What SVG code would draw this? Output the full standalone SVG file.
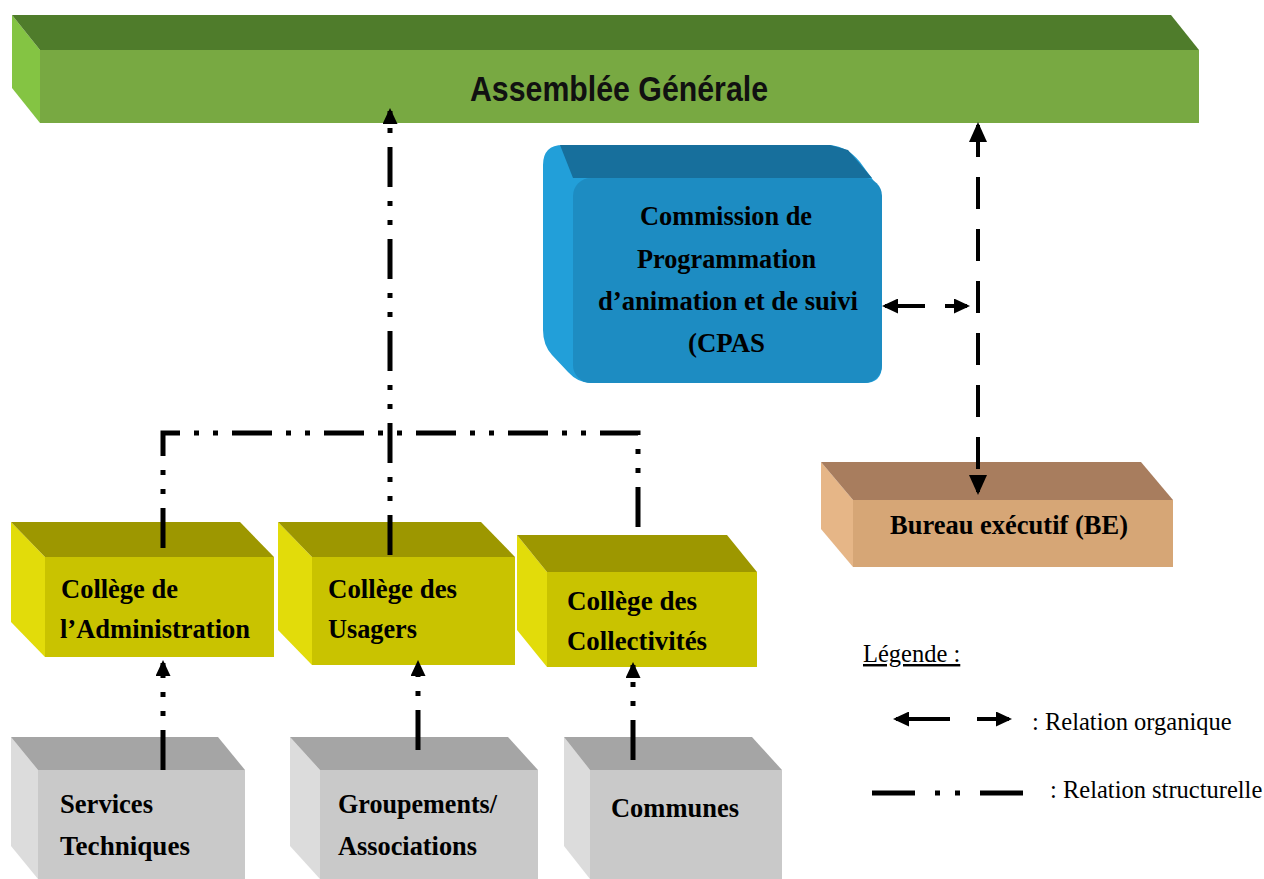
<svg xmlns="http://www.w3.org/2000/svg" width="1264" height="879" viewBox="0 0 1264 879">
<style>
.lbl{font-family:"Liberation Serif","Times New Roman",serif;font-weight:bold;font-size:28px;fill:#000}
.ag{font-family:"Liberation Sans",Arial,sans-serif;font-weight:bold;font-size:35px;fill:#111}
.leg{font-family:"Liberation Serif","Times New Roman",serif;font-size:24.5px;fill:#000}
.org{fill:none;stroke:#000;stroke-width:4}
.str{fill:none;stroke:#000;stroke-width:5;stroke-dasharray:40 14 5 14 5 14}
.gT{fill:#4f7c2b}.gL{fill:#84c443}.gF{fill:#78a942}
.bT{fill:#176f9c}.bL{fill:#229fd9}.bF{fill:#1d8cc2}
.yT{fill:#9d9700}.yL{fill:#e2dc0a}.yF{fill:#c9c300}
.sT{fill:#a5a5a5}.sL{fill:#dcdcdc}.sF{fill:#c9c9c9}
.tT{fill:#a87d5e}.tL{fill:#e6b687}.tF{fill:#d6a676}
</style>
<defs>
<marker id="big" markerUnits="userSpaceOnUse" markerWidth="20" markerHeight="18" viewBox="0 0 20 18" refX="17" refY="9" orient="auto-start-reverse"><path d="M0,0 L20,9 L0,18 z" fill="#000"/></marker>
<marker id="sm" markerUnits="userSpaceOnUse" markerWidth="16" markerHeight="15" viewBox="0 0 16 15" refX="13" refY="7.5" orient="auto-start-reverse"><path d="M0,0 L16,7.5 L0,15 z" fill="#000"/></marker>
</defs>
<rect width="1264" height="879" fill="#fff"/>

<g id="assemblee-generale">
<polygon class="gL" points="12,15 40,50 40,123 12,88"/>
<polygon class="gT" points="12,15 1171,15 1199,50 40,50"/>
<rect class="gF" x="40" y="50" width="1159" height="73"/>
<text class="ag" x="470" y="101" textLength="298" lengthAdjust="spacingAndGlyphs">Assemblée Générale</text>
</g>

<g id="cpas">
<path class="bL" d="M563,145 L830,145 Q848,147 860,162 L876,184 Q882,192 882,200 V365 Q882,383 864,383 H591 Q578,383 568,372 L552,355 Q543,345 543,330 V165 Q543,145 563,145 Z"/>
<polygon class="bT" points="560,145 830,145 848,150 872,178 573,178"/>
<rect class="bF" x="573" y="178" width="309" height="205" rx="18"/>
<text class="lbl" x="640" y="225" textLength="172" lengthAdjust="spacingAndGlyphs">Commission de</text>
<text class="lbl" x="637" y="268" textLength="179" lengthAdjust="spacingAndGlyphs">Programmation</text>
<text class="lbl" x="598" y="310" textLength="260" lengthAdjust="spacingAndGlyphs">d’animation et de suivi</text>
<text class="lbl" x="688" y="352" textLength="77" lengthAdjust="spacingAndGlyphs">(CPAS</text>
</g>

<g id="bureau-executif">
<polygon class="tL" points="821,462 853,500 853,567 821,529"/>
<polygon class="tT" points="821,462 1141,462 1173,500 853,500"/>
<rect class="tF" x="853" y="500" width="320" height="67"/>
<text class="lbl" x="890" y="534" textLength="238" lengthAdjust="spacingAndGlyphs">Bureau exécutif (BE)</text>
</g>

<g id="college-administration">
<polygon class="yL" points="11,522 45,557 45,657 11,622"/>
<polygon class="yT" points="11,522 240,522 274,557 45,557"/>
<rect class="yF" x="45" y="557" width="229" height="100"/>
<text class="lbl" x="61" y="598" textLength="117" lengthAdjust="spacingAndGlyphs">Collège de</text>
<text class="lbl" x="60" y="638" textLength="190" lengthAdjust="spacingAndGlyphs">l’Administration</text>
</g>

<g id="college-usagers">
<polygon class="yL" points="278,522 312,557 312,665 278,630"/>
<polygon class="yT" points="278,522 481,522 515,557 312,557"/>
<rect class="yF" x="312" y="557" width="203" height="108"/>
<text class="lbl" x="328" y="598" textLength="129" lengthAdjust="spacingAndGlyphs">Collège des</text>
<text class="lbl" x="328" y="638" textLength="89" lengthAdjust="spacingAndGlyphs">Usagers</text>
</g>

<g id="college-collectivites">
<polygon class="yL" points="517,535 547,572 547,667 517,630"/>
<polygon class="yT" points="517,535 727,535 757,572 547,572"/>
<rect class="yF" x="547" y="572" width="210" height="95"/>
<text class="lbl" x="567" y="610" textLength="130" lengthAdjust="spacingAndGlyphs">Collège des</text>
<text class="lbl" x="567" y="650" textLength="140" lengthAdjust="spacingAndGlyphs">Collectivités</text>
</g>

<g id="services-techniques">
<polygon class="sL" points="11,737 38,770 38,879 11,846"/>
<polygon class="sT" points="11,737 218,737 245,770 38,770"/>
<rect class="sF" x="38" y="770" width="207" height="109"/>
<text class="lbl" x="60" y="813" textLength="93" lengthAdjust="spacingAndGlyphs">Services</text>
<text class="lbl" x="60" y="855" textLength="130" lengthAdjust="spacingAndGlyphs">Techniques</text>
</g>

<g id="groupements-associations">
<polygon class="sL" points="290,737 320,770 320,879 290,846"/>
<polygon class="sT" points="290,737 508,737 538,770 320,770"/>
<rect class="sF" x="320" y="770" width="218" height="109"/>
<text class="lbl" x="338" y="813" textLength="159" lengthAdjust="spacingAndGlyphs">Groupements/</text>
<text class="lbl" x="338" y="855" textLength="139" lengthAdjust="spacingAndGlyphs">Associations</text>
</g>

<g id="communes">
<polygon class="sL" points="564,737 590,770 590,879 564,846"/>
<polygon class="sT" points="564,737 752,737 782,770 590,770"/>
<rect class="sF" x="590" y="770" width="192" height="109"/>
<text class="lbl" x="611" y="817" textLength="128" lengthAdjust="spacingAndGlyphs">Communes</text>
</g>

<g id="connectors">
<path class="org" d="M978,125 L978,492" stroke-dasharray="32 20" marker-start="url(#big)" marker-end="url(#big)"/>
<path class="org" d="M925,306 L885,306" marker-end="url(#sm)"/>
<path class="org" d="M945,306 L967,306" marker-end="url(#sm)"/>
<path class="str" d="M390,555 L390,111" marker-end="url(#sm)"/>
<path class="str" d="M163,548 V433 H638 V540"/>
<path class="str" d="M163,770 L163,663" marker-end="url(#sm)"/>
<path class="str" d="M418,750 L418,663" marker-end="url(#sm)"/>
<path class="str" d="M633,760 L633,665" marker-end="url(#sm)"/>
</g>

<g id="legende">
<text class="leg" x="863" y="662" font-size="26" style="text-decoration:underline">Légende :</text>
<path class="org" d="M950,719 L896,719" marker-end="url(#sm)"/>
<path class="org" d="M977,719 L1009,719" marker-end="url(#sm)"/>
<text class="leg" x="1032" y="730">: Relation organique</text>
<path d="M872,793 L1025,793" fill="none" stroke="#000" stroke-width="5" stroke-dasharray="43 20 5 15 5 20 43 100"/>
<text class="leg" x="1050" y="798">: Relation structurelle</text>
</g>
</svg>
